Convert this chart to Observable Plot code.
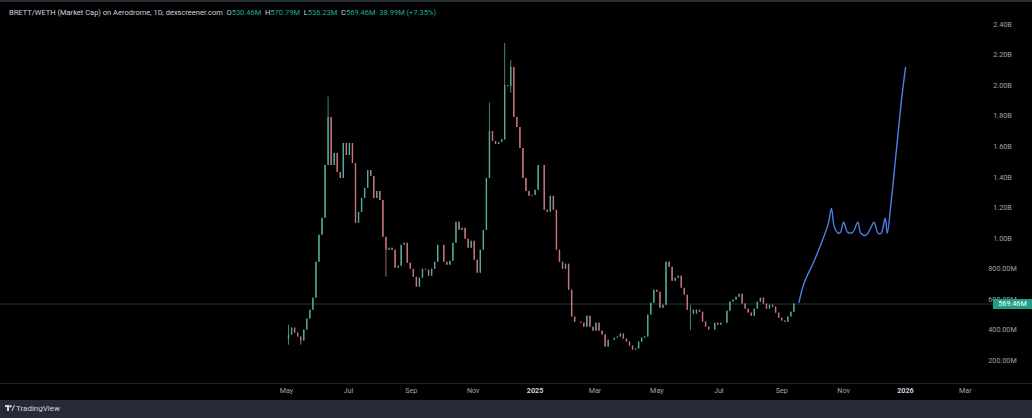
<!DOCTYPE html>
<html><head><meta charset="utf-8">
<script src="https://cdn.jsdelivr.net/npm/d3@7"></script>
<script src="https://cdn.jsdelivr.net/npm/@observablehq/plot@0.6"></script>
<style>
html,body{margin:0;padding:0;background:#000;width:1032px;height:418px;overflow:hidden;font-family:Roboto,"Liberation Sans",sans-serif;}
#wrap{position:relative;width:1032px;height:418px;background:#000;}
#topbar{position:absolute;left:0;top:0;width:1032px;height:2px;background:#2a2e39;}
#chart{position:absolute;left:0;top:2px;}
#sep{position:absolute;left:0;top:383px;width:1032px;height:1px;background:#1e2129;}
#footer{position:absolute;left:0;top:400px;width:1032px;height:18px;background:#262a36;color:#d1d4dc;font-size:8px;}
#footer svg{position:absolute;left:5px;top:5px;}
#footer span{position:absolute;left:16px;top:4px;}
#hdr{position:absolute;left:9px;top:8px;font-size:7.5px;color:#d1d4dc;white-space:nowrap;}
#hdr .g{color:#22ab94}
#plabel{position:absolute;left:993px;width:39px;height:10px;background:#1f9e8a;color:#fff;font-size:7.2px;text-align:center;line-height:10px;}
</style></head>
<body>
<div id="wrap">
  <div id="topbar"></div>
  <div id="chart"></div>
  <div id="sep"></div>
  <div id="hdr"></div>
  <div id="plabel"></div>
  <div id="footer"><svg width="10" height="7" viewBox="0 0 10 7"><rect x="0" y="0" width="4" height="2" fill="#d1d4dc"/><rect x="2" y="0" width="2" height="6" fill="#d1d4dc"/><circle cx="5.5" cy="1.3" r="1.2" fill="#d1d4dc"/><polygon points="6.5,6 9,0 10,0 7.5,6" fill="#d1d4dc"/></svg><span>TradingView</span></div>
</div>
<script>
// ---- data ----
const candleStart = "2024-05-03";
const candleStepDays = 3;
const firstOpen = 340;
const closes = [
366,412,379,353,327,399,471,529,608,843,
1020,1131,1477,1791,1477,1556,1431,1392,1621,1542,
1621,1490,1098,1170,1261,1327,1444,1405,1261,1307,
1248,1007,922,935,922,804,817,954,967,837,
797,745,680,739,797,791,752,797,843,954,
954,843,824,850,967,1105,1052,1065,993,935,
980,856,771,922,1052,1392,1699,1634,1614,1627,
1647,2000,1993,2118,1791,1726,1588,1392,1307,1275,
1281,1314,1477,1477,1183,1170,1275,1183,922,843,
797,830,660,484,451,451,444,418,490,418,
392,444,392,366,288,333,333,346,353,373,
340,320,294,268,275,320,346,353,497,575,
660,647,542,562,843,810,719,739,752,673,
627,529,529,503,529,516,451,418,399,399,
444,431,444,444,523,582,595,614,634,569,
536,510,490,536,582,608,569,536,562,549,
510,477,458,451,484,516,569.46];
const wickDates = ["2024-05-03","2024-05-15","2024-06-11","2024-08-07","2024-11-17","2024-12-02","2024-12-08","2025-06-03"];
const wickLows  = [300,300,1500,745,1600,1640,1950,395];
const wickHighs = [430,350,1925,950,1885,2275,2165,560];

const projDates = ["2025-09-18","2025-09-23","2025-10-02","2025-10-10","2025-10-17","2025-10-20","2025-10-23","2025-10-27","2025-10-29","2025-11-01","2025-11-05","2025-11-10","2025-11-15","2025-11-18","2025-11-23","2025-11-28","2025-12-01","2025-12-05","2025-12-08","2025-12-12","2025-12-14","2025-12-18","2025-12-23","2025-12-28","2026-01-01"];
const projValues = [580,706,837,967,1098,1196,1072,1033,1039,1105,1039,1039,1105,1033,1020,1072,1105,1033,1033,1131,1033,1248,1575,1902,2118];

const yTicks = [200,400,600,800,1000,1200,1400,1600,1800,2000,2200,2400];
const yTickLabels = ["200.00M","400.00M","600.00M","800.00M","1.00B","1.20B","1.40B","1.60B","1.80B","2.00B","2.20B","2.40B"];
const xTickDates = ["2024-05-01","2024-07-01","2024-09-01","2024-11-01","2025-01-01","2025-03-01","2025-05-01","2025-07-01","2025-09-01","2025-11-01","2026-01-01","2026-03-01"];
const xTickLabels = ["May","Jul","Sep","Nov","2025","Mar","May","Jul","Sep","Nov","2026","Mar"];

const header = {pair:"BRETT/WETH (Market Cap) on Aerodrome, 1D, dexscreener.com", O:"530.46M", H:"570.79M", L:"536.23M", C:"569.46M", chg:"38.99M (+7.35%)"};
const lastValue = 569.46;

// ---- build ----
const UP = "#55a99a", DOWN = "#c97578";
const fmt = d3.utcFormat("%Y-%m-%d");
const wickMap = new Map(wickDates.map((d,i)=>[d,[wickLows[i],wickHighs[i]]]));
const start = new Date(candleStart + "T00:00:00Z");
const candles = closes.map((c,i)=>{
  const date = d3.utcDay.offset(start, i*candleStepDays);
  const open = i===0 ? firstOpen : closes[i-1];
  let low = Math.min(open,c), high = Math.max(open,c);
  const w = wickMap.get(fmt(date));
  if (w) { low = Math.min(low,w[0]); high = Math.max(high,w[1]); }
  return {date, open, close:c, low, high, color: c>=open ? UP : DOWN};
});
const proj = projDates.map((d,i)=>({date:new Date(d+"T00:00:00Z"), value:projValues[i]}));
const xt = xTickDates.map((d,i)=>({date:new Date(d+"T00:00:00Z"), label:xTickLabels[i], bold:/^\d{4}$/.test(xTickLabels[i])}));
const yt = yTicks.map((v,i)=>({v, label:yTickLabels[i]}));

const plot = Plot.plot({
  width: 1032, height: 398,
  marginLeft: 0, marginRight: 30, marginTop: 0, marginBottom: 0,
  style: {background:"#000", fontFamily:"Roboto, 'Liberation Sans', sans-serif"},
  x: {type:"utc", domain:[new Date("2024-05-01T00:00:00Z"), new Date("2026-01-01T00:00:00Z")], range:[286,905], axis:null},
  y: {domain:[0,2400], range:[388.5,22], axis:null},
  color: {type:"identity"},
  marks: [
    Plot.ruleY([lastValue], {stroke:"#1b4f49", strokeWidth:0.8}),
    Plot.ruleX(candles, {x:"date", y1:"low", y2:"high", stroke:"color", strokeWidth:0.8}),
    Plot.ruleX(candles, {x:"date", y1:"open", y2:"close", stroke:"color", strokeWidth:1.4}),
    Plot.line(proj, {x:"date", y:"value", stroke:"#4c7fe6", strokeWidth:1.4, curve:"catmull-rom"}),
    Plot.text(yt, {y:"v", text:"label", frameAnchor:"right", textAnchor:"middle", fill:"#a0a3ac", fontSize:7.2}),
    Plot.text(xt.filter(d=>!d.bold), {x:"date", text:"label", frameAnchor:"bottom", dy:-8, fill:"#a0a3ac", fontSize:7.2}),
    Plot.text(xt.filter(d=>d.bold), {x:"date", text:"label", frameAnchor:"bottom", dy:-8, fill:"#d1d4dc", fontSize:7.2, fontWeight:"bold"})
  ]
});
document.getElementById("chart").appendChild(plot);

document.getElementById("hdr").innerHTML =
  `${header.pair}&nbsp; O<span class="g">${header.O}</span>&nbsp; H<span class="g">${header.H}</span>&nbsp; L<span class="g">${header.L}</span>&nbsp; C<span class="g">${header.C}</span>&nbsp; <span class="g">${header.chg}</span>`;

const pl = document.getElementById("plabel");
pl.textContent = header.C;
pl.style.top = (2 + plot.scale("y").apply(lastValue) - 5) + "px";
</script>
</body></html>
